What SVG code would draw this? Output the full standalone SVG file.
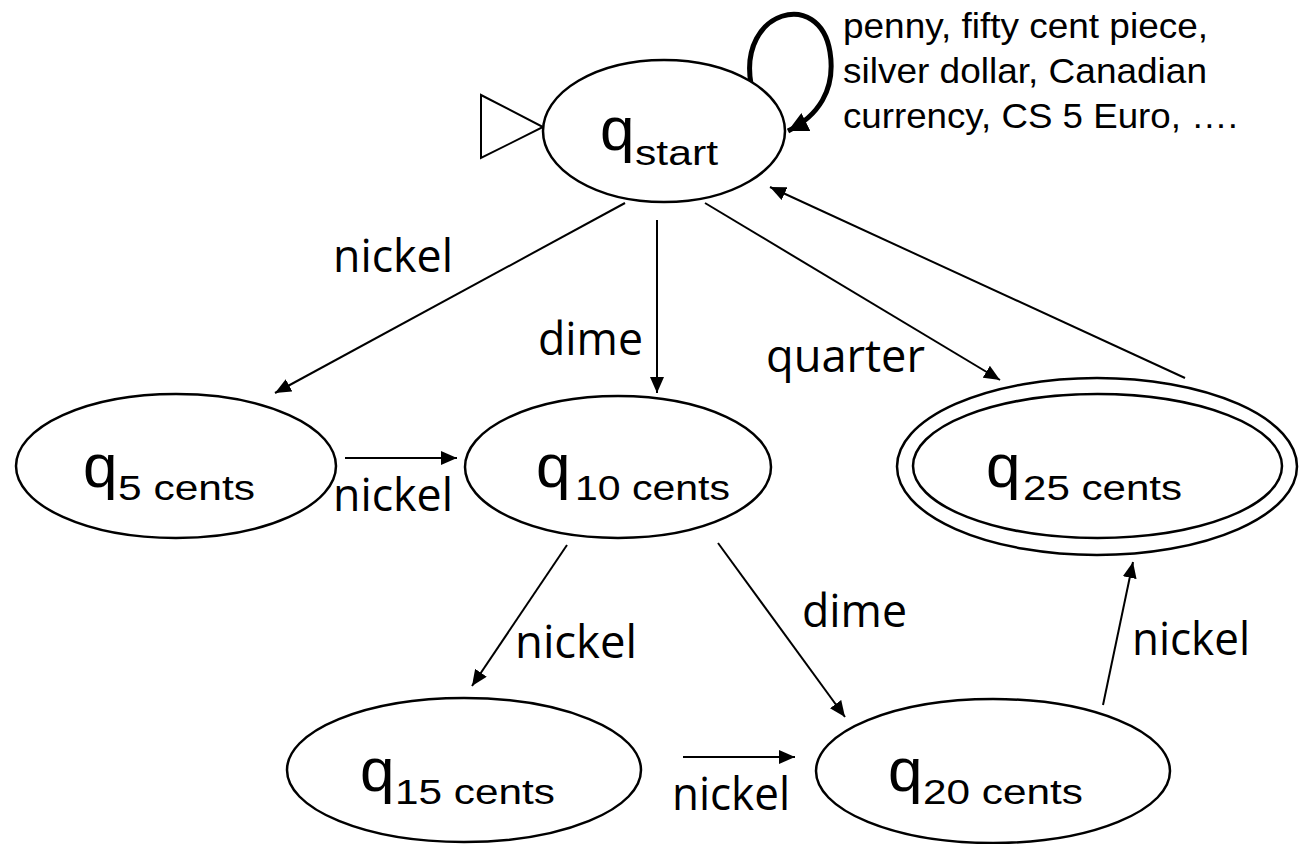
<svg xmlns="http://www.w3.org/2000/svg" width="1305" height="844" viewBox="0 0 1305 844">
  <style>
    .state { fill: #fff; stroke: #000; stroke-width: 2.5; }
    .edge { fill: none; stroke: #000; stroke-width: 2; marker-end: url(#arrow); }
    .loop { fill: none; stroke: #000; stroke-width: 5; marker-end: url(#arrowBig); }
    .q { font-family: "Liberation Sans", Arial, sans-serif; font-size: 62px; fill: #000; }
    .sub { font-family: "Liberation Sans", Arial, sans-serif; font-size: 35px; fill: #000; }
    .lbl { font-family: "Open Sans", "Lato", sans-serif; font-size: 46px; fill: #000; }
    .note { font-family: "Liberation Sans", Arial, sans-serif; font-size: 34.5px; fill: #000; }
  </style>
  <defs>
    <marker id="arrow" markerUnits="userSpaceOnUse" markerWidth="17" markerHeight="14" refX="16" refY="7" orient="auto">
      <path d="M0,0 L16,7 L0,14 Z" fill="#000"/>
    </marker>
    <marker id="arrowBig" markerUnits="userSpaceOnUse" markerWidth="22" markerHeight="20" refX="20" refY="10" orient="auto">
      <path d="M0,0 L20,10 L0,20 Z" fill="#000"/>
    </marker>
  </defs>

  <rect width="1305" height="844" fill="#fff"/>

  <!-- connectors -->
  <g id="connectors">
    <path class="loop" d="M751,84 C738,10 820,-12 830,52 C836,90 818,116 788,131"/>
    <line class="edge" x1="625" y1="203" x2="275" y2="393"/>
    <line class="edge" x1="657" y1="220" x2="657" y2="393"/>
    <line class="edge" x1="705" y1="203" x2="1000" y2="380"/>
    <line class="edge" x1="1185" y1="378" x2="770" y2="187"/>
    <line class="edge" x1="345" y1="458" x2="457" y2="458"/>
    <line class="edge" x1="567" y1="545" x2="472" y2="686"/>
    <line class="edge" x1="718" y1="543" x2="845" y2="717"/>
    <line class="edge" x1="683" y1="757" x2="795" y2="757"/>
    <line class="edge" x1="1103" y1="705" x2="1133" y2="562"/>

    <text class="lbl" x="333" y="272" textLength="120" lengthAdjust="spacingAndGlyphs">nickel</text>
    <text class="lbl" x="538" y="355" textLength="105" lengthAdjust="spacingAndGlyphs">dime</text>
    <text class="lbl" x="766" y="372" textLength="159" lengthAdjust="spacingAndGlyphs">quarter</text>
    <text class="lbl" x="333" y="511" textLength="120" lengthAdjust="spacingAndGlyphs">nickel</text>
    <text class="lbl" x="515" y="658" textLength="122" lengthAdjust="spacingAndGlyphs">nickel</text>
    <text class="lbl" x="802" y="627" textLength="105" lengthAdjust="spacingAndGlyphs">dime</text>
    <text class="lbl" x="672" y="810" textLength="118" lengthAdjust="spacingAndGlyphs">nickel</text>
    <text class="lbl" x="1132" y="655" textLength="118" lengthAdjust="spacingAndGlyphs">nickel</text>

    <text class="note" x="843" y="38" textLength="365" lengthAdjust="spacingAndGlyphs">penny, fifty cent piece,</text>
    <text class="note" x="843" y="83" textLength="364" lengthAdjust="spacingAndGlyphs">silver dollar, Canadian</text>
    <text class="note" x="843" y="128" textLength="395" lengthAdjust="spacingAndGlyphs">currency, CS 5 Euro, ….</text>
  </g>

  <!-- initial state marker -->
  <polygon id="start-marker" points="481,95 481,158 543,127" fill="#fff" stroke="#000" stroke-width="2"/>

  <g id="q_start">
    <ellipse class="state" cx="664" cy="131" rx="121" ry="71"/>
    <text class="q" x="600" y="150">q</text>
    <text class="sub" x="635" y="165" font-size="41" textLength="83" lengthAdjust="spacingAndGlyphs">start</text>
  </g>

  <g id="q_5">
    <ellipse class="state" cx="176" cy="466" rx="160" ry="72"/>
    <text class="q" x="83" y="487">q</text>
    <text class="sub" x="118" y="500" textLength="137" lengthAdjust="spacingAndGlyphs">5 cents</text>
  </g>

  <g id="q_10">
    <ellipse class="state" cx="618" cy="467" rx="153" ry="71"/>
    <text class="q" x="536" y="487">q</text>
    <text class="sub" x="575" y="500" textLength="155" lengthAdjust="spacingAndGlyphs">10 cents</text>
  </g>

  <g id="q_25">
    <ellipse class="state" cx="1097" cy="466.5" rx="200" ry="88.5"/>
    <ellipse class="state" cx="1097.5" cy="466" rx="184.5" ry="72"/>
    <text class="q" x="986" y="487">q</text>
    <text class="sub" x="1023" y="500" textLength="159" lengthAdjust="spacingAndGlyphs">25 cents</text>
  </g>

  <g id="q_15">
    <ellipse class="state" cx="464" cy="770" rx="177" ry="72"/>
    <text class="q" x="360" y="791">q</text>
    <text class="sub" x="395" y="804" textLength="160" lengthAdjust="spacingAndGlyphs">15 cents</text>
  </g>

  <g id="q_20">
    <ellipse class="state" cx="993" cy="771" rx="177" ry="72"/>
    <text class="q" x="888" y="791">q</text>
    <text class="sub" x="923" y="804" textLength="160" lengthAdjust="spacingAndGlyphs">20 cents</text>
  </g>
</svg>
